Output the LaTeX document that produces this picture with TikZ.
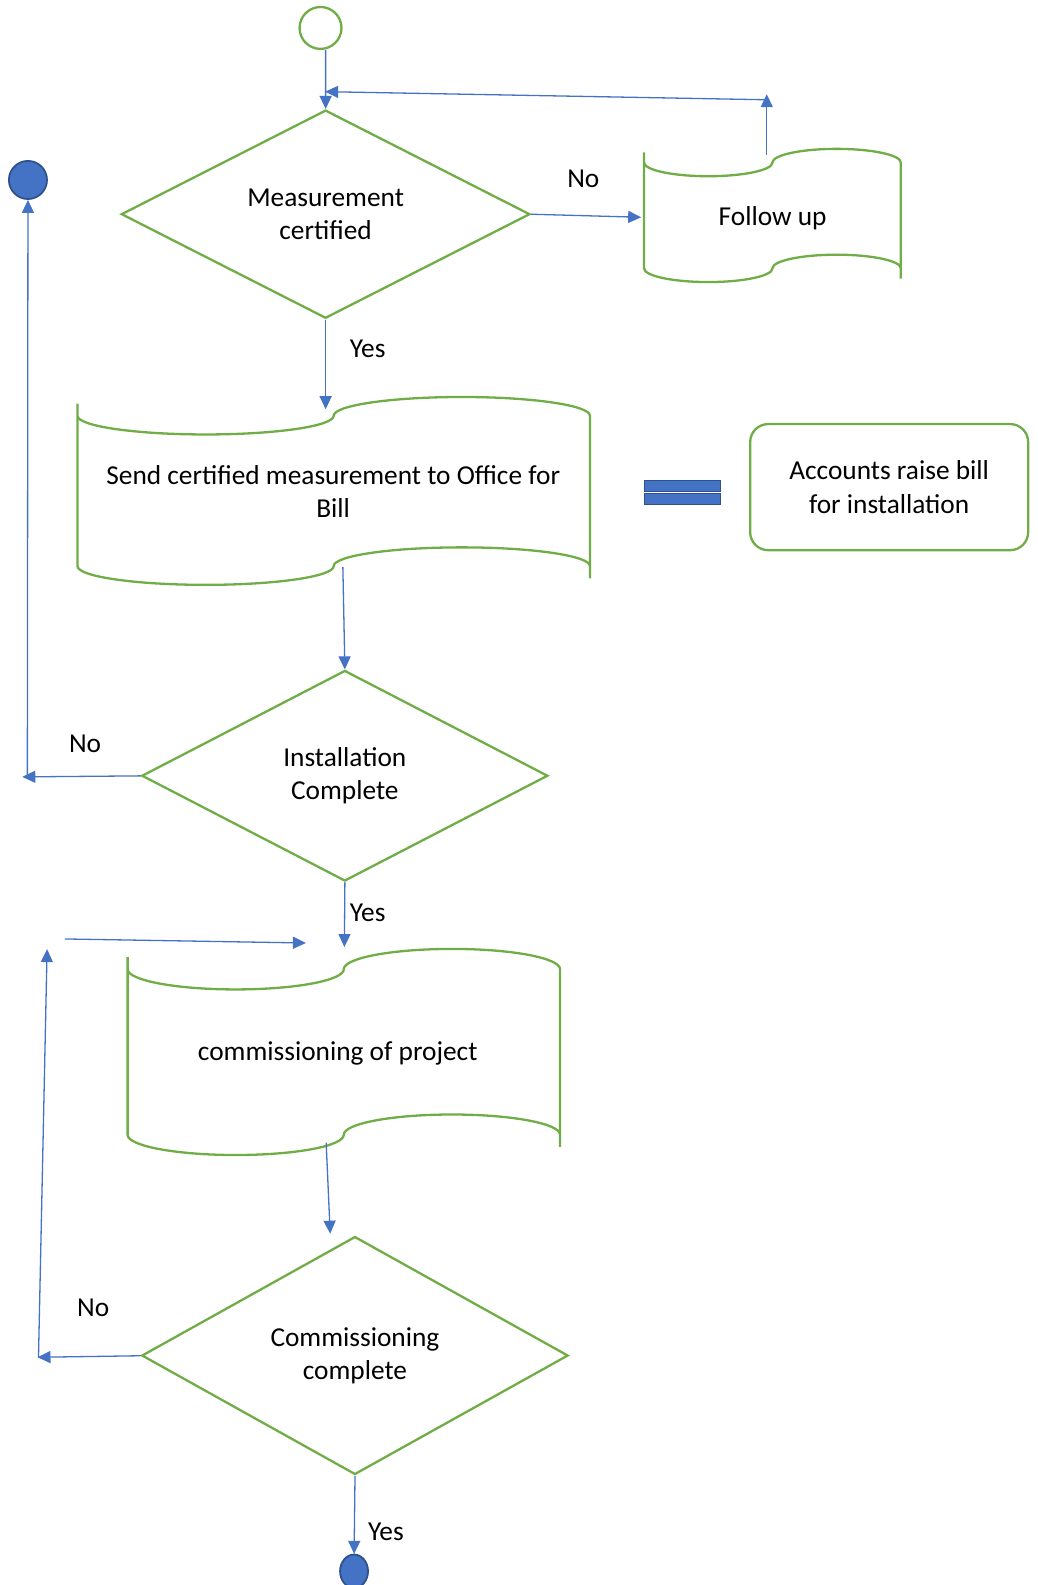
\documentclass[tikz,border=0pt]{standalone}
\usepackage{fontspec}
\setmainfont{Carlito}
\usetikzlibrary{arrows.meta,shapes.geometric}
\definecolor{fgreen}{HTML}{70AD47}
\definecolor{fblue}{HTML}{4472C4}
\definecolor{fdblue}{HTML}{2F528F}
% punched-tape outline: #1 left, #2 right, #3 top level, #4 bottom level, #5 wave amplitude, #6 edge overhang
\newcommand{\punchtape}[6]{%
  \pgfmathsetmacro{\ptL}{#1}%
  \pgfmathsetmacro{\ptR}{#2}%
  \pgfmathsetmacro{\ptM}{(#1+#2)/2}%
  \pgfmathsetmacro{\ptQa}{(3*#1+#2)/4}%
  \pgfmathsetmacro{\ptQb}{(#1+3*#2)/4}%
  \pgfmathsetmacro{\ptK}{0.5523*(#2-#1)/4}%
  \pgfmathsetmacro{\ptT}{#3}%
  \pgfmathsetmacro{\ptB}{#4}%
  \pgfmathsetmacro{\ptA}{#5}%
  \pgfmathsetmacro{\ptKa}{0.5523*#5}%
  \draw[tapeline]
    (\ptL,\ptT-#6) -- (\ptL,\ptT)
    .. controls (\ptL,\ptT+\ptKa) and (\ptQa-\ptK,\ptT+\ptA) .. (\ptQa,\ptT+\ptA)
    .. controls (\ptQa+\ptK,\ptT+\ptA) and (\ptM,\ptT+\ptKa) .. (\ptM,\ptT)
    .. controls (\ptM,\ptT-\ptKa) and (\ptQb-\ptK,\ptT-\ptA) .. (\ptQb,\ptT-\ptA)
    .. controls (\ptQb+\ptK,\ptT-\ptA) and (\ptR,\ptT-\ptKa) .. (\ptR,\ptT)
    -- (\ptR,\ptB+#6)
    (\ptR,\ptB)
    .. controls (\ptR,\ptB-\ptKa) and (\ptQb+\ptK,\ptB-\ptA) .. (\ptQb,\ptB-\ptA)
    .. controls (\ptQb-\ptK,\ptB-\ptA) and (\ptM,\ptB-\ptKa) .. (\ptM,\ptB)
    .. controls (\ptM,\ptB+\ptKa) and (\ptQa+\ptK,\ptB+\ptA) .. (\ptQa,\ptB+\ptA)
    .. controls (\ptQa-\ptK,\ptB+\ptA) and (\ptL,\ptB+\ptKa) .. (\ptL,\ptB)
    -- (\ptL,\ptT);
}
\begin{document}
\begin{tikzpicture}[x=1pt,y=-1pt,scale=1.0127,
  every node/.style={transform shape, inner sep=0pt, font=\fontsize{27}{33}\selectfont},
  tapeline/.style={draw=fgreen, line width=2.3pt, line join=round},
  dec/.style={diamond, aspect=2, draw=fgreen, line width=2.3pt, align=center},
  tapetext/.style={align=center},
  arr/.style={draw=fblue, line width=1.3pt, -{Triangle[length=13pt,width=12pt]}},
  endc/.style={circle, fill=fblue, draw=fdblue, line width=1.8pt},
  bar/.style={rectangle, fill=fblue, draw=fdblue, line width=1pt},
  lbl/.style={inner sep=0pt}
]
\useasboundingbox (0,0) rectangle (1024,1565.1);

% ---------- nodes ----------
\node[circle, draw=fgreen, line width=2.3pt, minimum size=41.4pt] (start) at (316.5,27.6) {};
\node[endc, minimum size=37.6pt] (endA) at (27.6,177.7) {};

\node[dec, minimum width=403.5pt, minimum height=205.6pt] (d1) at (321.5,211.5) {Measurement\\certified};

\punchtape{636}{889.5}{160.5}{265}{13.5}{10}
\node[tapetext, minimum width=253.5pt, minimum height=131.5pt] (fu) at (763,215) {Follow up};

\punchtape{76.5}{582.5}{410.5}{559}{18.5}{12}
\node[tapetext, minimum width=506pt, minimum height=185pt] (send) at (329,485.5) {Send certified measurement to Office for\\Bill};

\node[bar, minimum width=75.5pt, minimum height=11pt] (eqA) at (673.75,480) {};
\node[bar, minimum width=75.5pt, minimum height=11pt] (eqB) at (673.75,492.5) {};

\node[draw=fgreen, line width=2.3pt, rounded corners=18pt, minimum width=274.5pt, minimum height=124.5pt, align=center] (acc) at (878,481) {Accounts raise bill\\for installation};

\node[dec, minimum width=401pt, minimum height=208pt] (d2) at (340.5,766) {Installation\\Complete};

\punchtape{126}{553}{957}{1120.5}{20}{12}
\node[tapetext, minimum width=427pt, minimum height=203pt] (comm) at (333.5,1040) {commissioning of project};

\node[dec, minimum width=421pt, minimum height=235pt] (d3) at (350.5,1338.5) {Commissioning\\complete};

\node[ellipse, fill=fblue, draw=fdblue, line width=1.8pt, minimum width=27.6pt, minimum height=33pt] (endB) at (349.6,1551.5) {};

% ---------- labels ----------
\node[lbl] (noA) at (576,177) {No};
\node[lbl] (yesA) at (363,344) {Yes};
\node[lbl] (noB) at (84,734) {No};
\node[lbl] (yesB) at (363,901) {Yes};
\node[lbl] (noC) at (92,1291) {No};
\node[lbl] (yesC) at (381,1513) {Yes};

% ---------- free ends ----------
\coordinate (fuTop) at (757,153);
\coordinate (loopUp) at (757,93);
\coordinate (loopR) at (757,98.5);
\coordinate (loopL) at (321,90.5);
\coordinate (fuIn) at (633,214.5);
\coordinate (sendIn) at (321.5,404);
\coordinate (sendOut) at (338.5,560);
\coordinate (noL1) at (22,767);
\coordinate (upL1) at (27,767);
\coordinate (commIn) at (340,935);
\coordinate (l2bot) at (38,1340);
\coordinate (l2top) at (46.5,937);
\coordinate (l2a) at (64,927);
\coordinate (l2b) at (302,931);
\coordinate (commOut) at (322,1128);
\coordinate (d3In) at (326,1218);
\coordinate (noL3) at (37,1340);

% ---------- connectors ----------
\draw[arr] ([xshift=5pt]start.south) -- (d1.north);
\draw[arr] (fuTop) -- (loopUp);
\draw[arr] (loopR) -- (loopL);
\draw[arr] (d1.east) -- (fuIn);
\draw[arr] (d1.south) -- (sendIn);
\draw[arr] (sendOut) -- (d2.north);
\draw[arr] (d2.west) -- (noL1);
\draw[arr] (upL1) -- (endA.south);
\draw[arr] (d2.south) -- (commIn);
\draw[arr] (l2bot) -- (l2top);
\draw[arr] (l2a) -- (l2b);
\draw[arr] (commOut) -- (d3In);
\draw[arr] (d3.west) -- (noL3);
\draw[arr] (d3.south) -- (endB.north);
\end{tikzpicture}
\end{document}
